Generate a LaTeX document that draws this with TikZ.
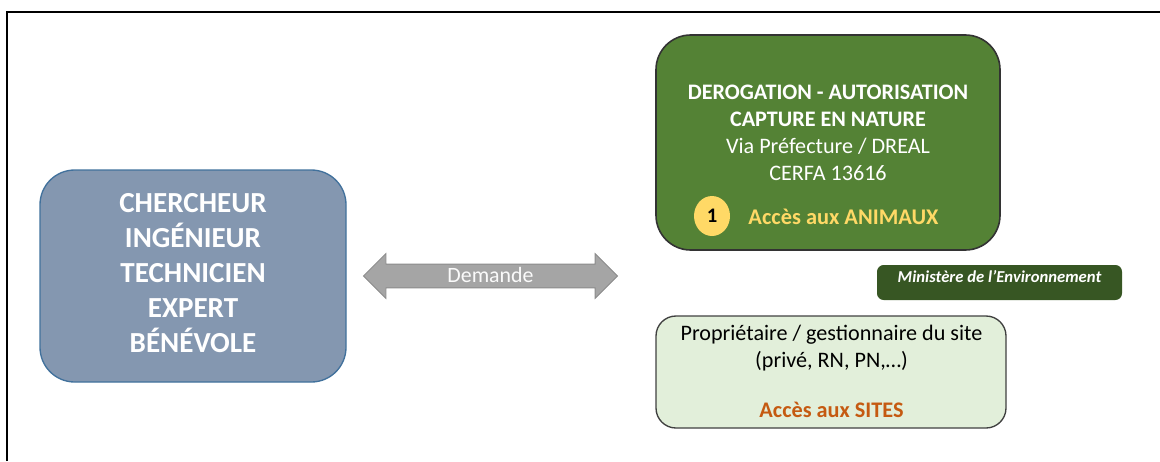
\documentclass[tikz,border=0pt]{standalone}
\usepackage{fontspec}
\setmainfont{Carlito}
\usetikzlibrary{fit,shapes.arrows,shapes.geometric}
\definecolor{bleu}{HTML}{8497B0}\definecolor{bleubord}{HTML}{41719C}
\definecolor{vert}{HTML}{548235}\definecolor{vertfonce}{HTML}{375623}\definecolor{vertclair}{HTML}{E2EFDA}
\definecolor{jaune}{HTML}{FFD966}\definecolor{brique}{HTML}{C55A11}\definecolor{gris}{HTML}{A5A5A5}

\begin{document}
\begin{tikzpicture}[x=.75pt,y=-.75pt,
  boite/.style={inner sep=0pt,line width=1pt},
  gros/.style={font=\bfseries\fontsize{21.8}{26.3}\selectfont,text=white,align=center},
  moyen/.style={font=\fontsize{16.6}{20.3}\selectfont,align=center}]
\useasboundingbox (0,0) rectangle (1160,461);
\draw[line width=2.2pt] (7,461)--(7,12)--(1160,12);
\node[boite,rounded corners=26pt,fit={(40,170)(346,382)},fill=bleu,draw=bleubord] (acteur){};
\node[gros] at (193,273){CHERCHEUR\\INGÉNIEUR\\TECHNICIEN\\EXPERT\\BÉNÉVOLE};
\node[boite,rounded corners=26pt,fit={(656,35)(1000,250)},fill=vert,draw=black!80,line width=1.2pt] (derog){};
\node[moyen,text=white] at (828,132.5){\bfseries DEROGATION - AUTORISATION\\\bfseries CAPTURE EN NATURE\\Via Préfecture / DREAL\\CERFA 13616};
\node[ellipse,fill=jaune,minimum width=27pt,minimum height=30pt,inner sep=0pt,font=\bfseries\fontsize{15.5}{18}\selectfont] (un) at (712,216){1};
\node[moyen,text=jaune,font=\bfseries\fontsize{16.8}{20}\selectfont] (anim) at (843.5,217){Accès aux ANIMAUX};
\node[boite,rounded corners=5pt,fit={(877,265)(1122,300)},fill=vertfonce,text=white,font=\bfseries\itshape\fontsize{12.5}{14}\selectfont] (minis){Ministère de l’Environnement};
\node[boite,rounded corners=15pt,fit={(656,316)(1006,428)},fill=vertclair,draw=black!75] (site){};
\node[moyen] at (831.5,348.5){Propriétaire / gestionnaire du site\\(privé, RN, PN,…)};
\node[moyen,text=brique,font=\bfseries\fontsize{16.7}{20}\selectfont] at (831.5,410){Accès aux SITES};
\node[double arrow,fill=gris,draw=gris!85!black,line width=.6pt,minimum height=190.5pt,minimum width=33pt,double arrow head extend=7.9pt,inner xsep=2pt,inner ysep=2.1pt,text height=11pt,text depth=2pt,text=white!95!gris,font=\fontsize{16.4}{18}\selectfont] (demande) at (490.5,276){Demande};
\end{tikzpicture}
\end{document}
